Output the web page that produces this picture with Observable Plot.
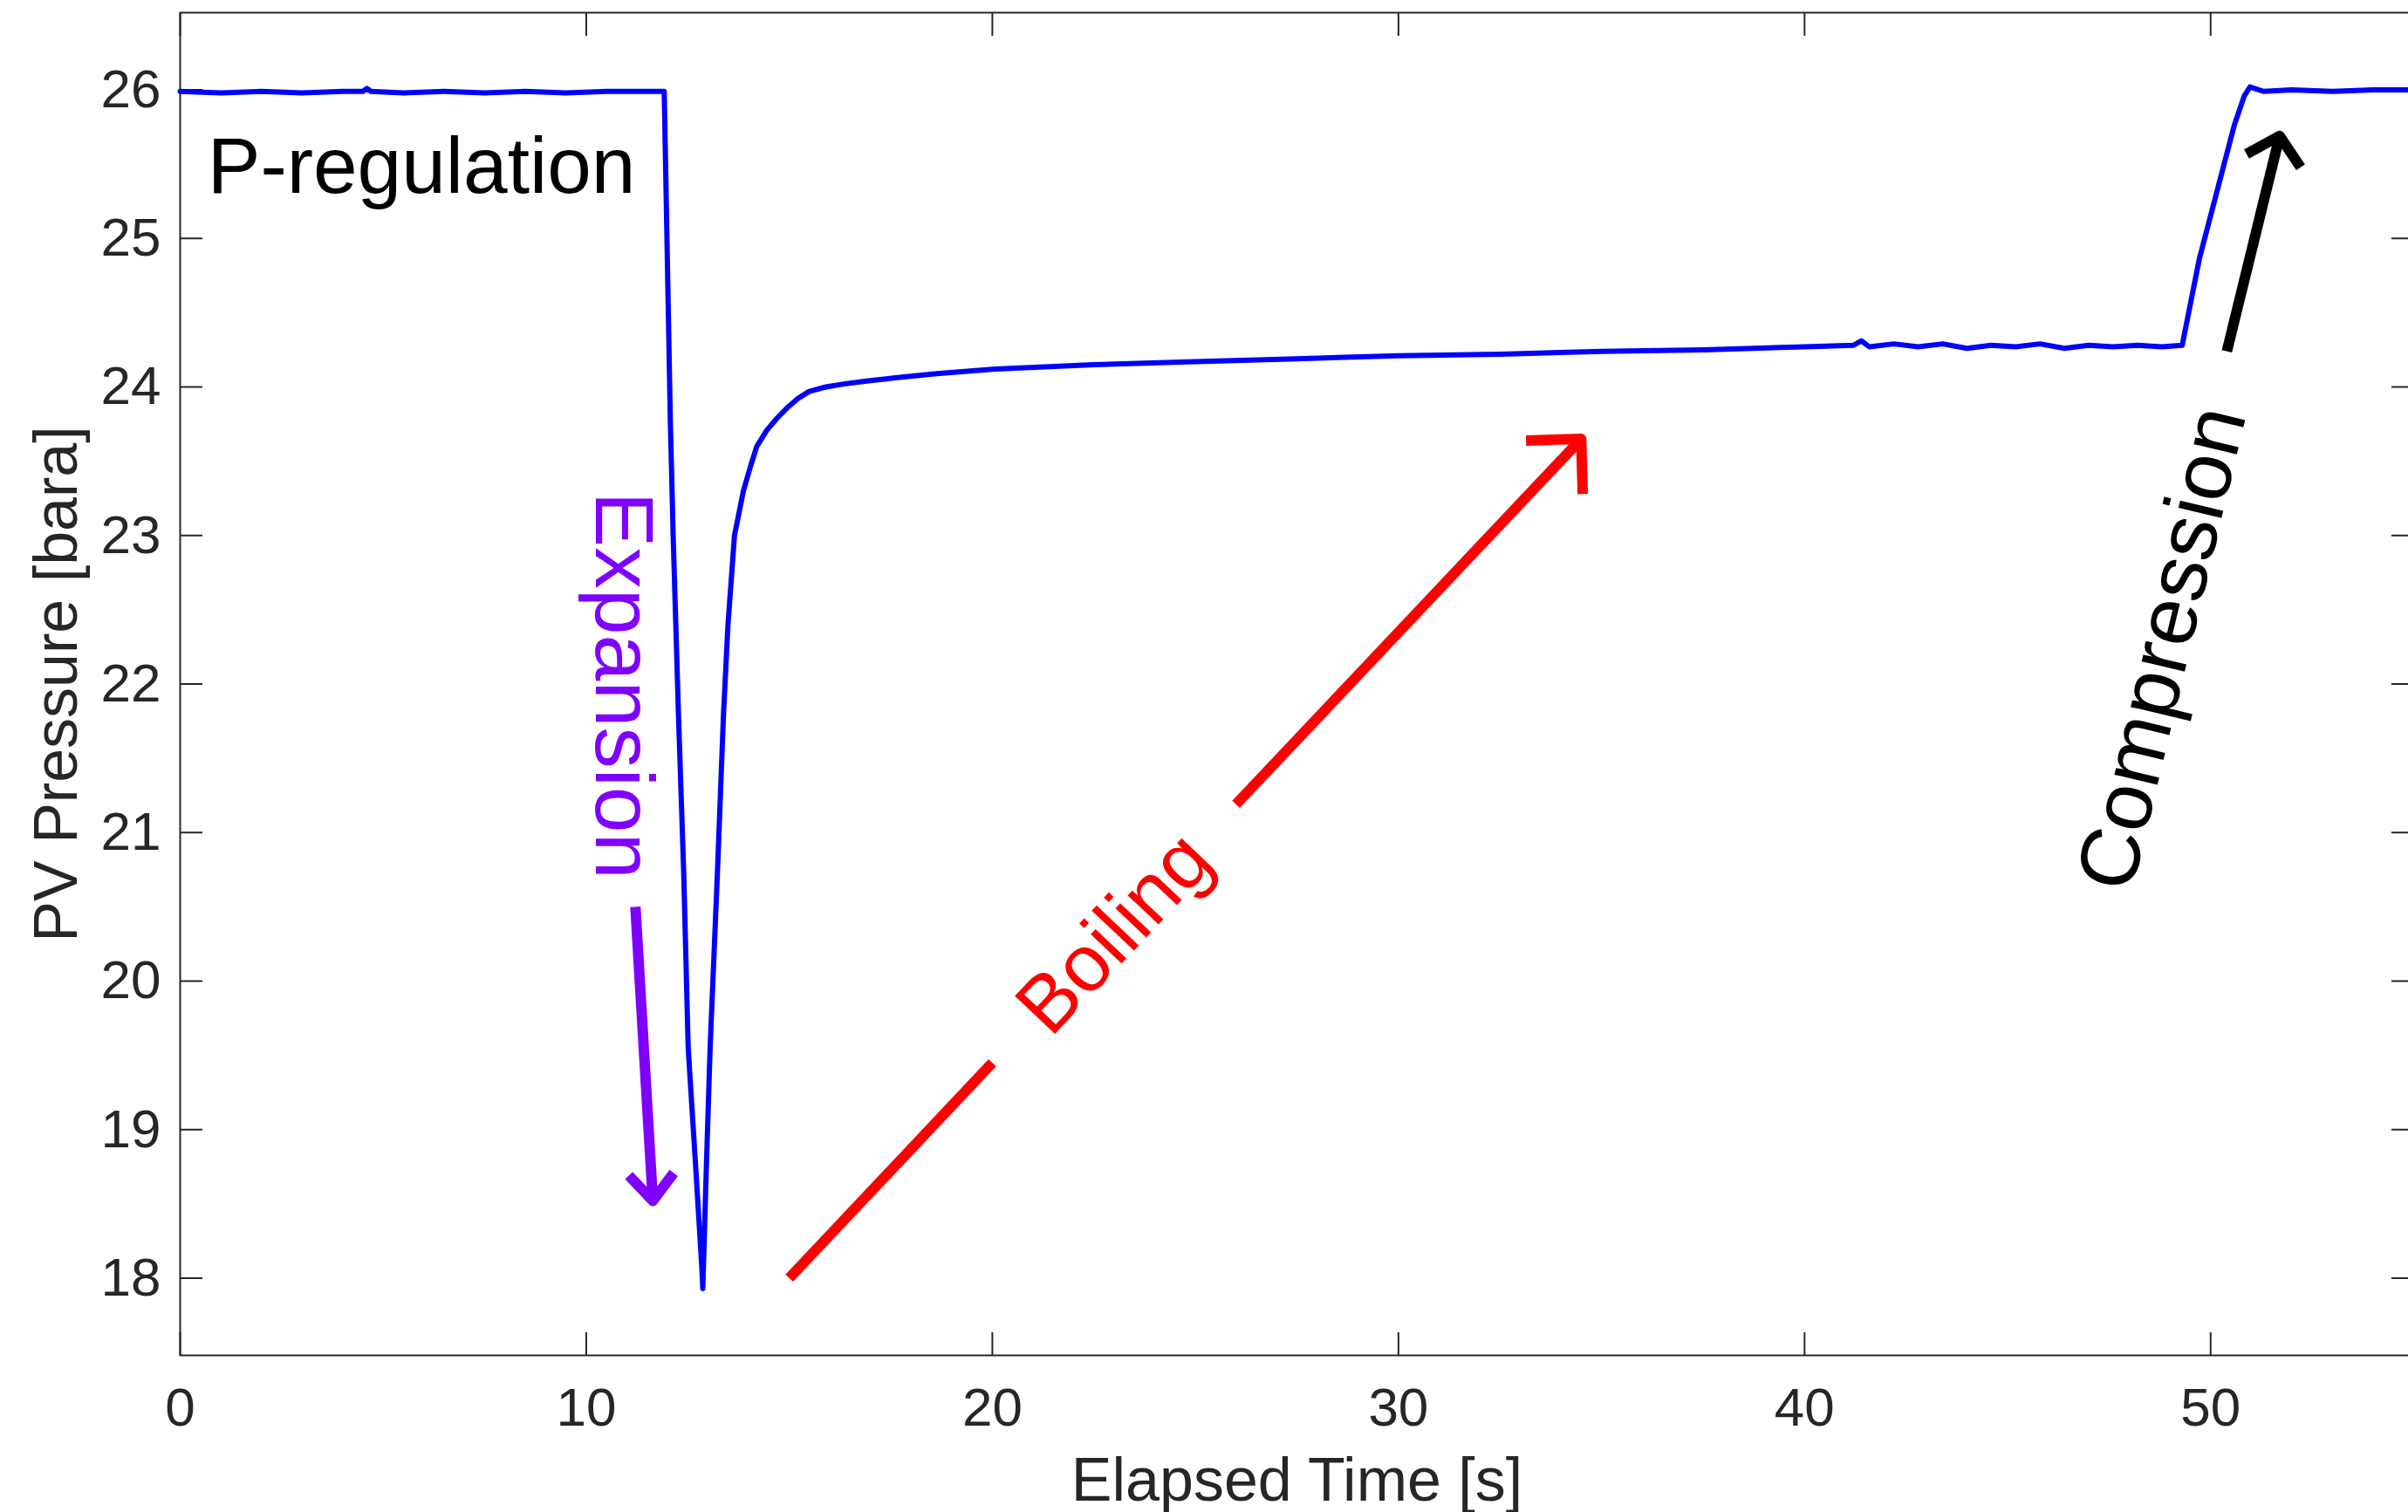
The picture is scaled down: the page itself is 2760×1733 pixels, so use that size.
<!DOCTYPE html>
<html>
<head>
<meta charset="utf-8">
<script src="https://cdn.jsdelivr.net/npm/d3@7"></script>
<script src="https://cdn.jsdelivr.net/npm/@observablehq/plot@0.6"></script>
<style>
  html, body { margin: 0; padding: 0; background: #ffffff; }
  #chart svg { display: block; }
</style>
</head>
<body>
<div id="chart"></div>
<script>
// ---- data ----
const time = [0, 1, 2, 3, 4, 4.5, 4.6, 4.7, 5.5, 6.5, 7.5, 8.5, 9.5, 10.5, 11.2, 11.92,
  12.07, 12.14, 12.27, 12.40, 12.51, 12.69, 12.84, 12.87,
  12.96, 13.05, 13.23, 13.38, 13.49, 13.65, 13.87, 14.05, 14.2, 14.45, 14.7, 14.95, 15.2, 15.49, 15.9, 16.34, 16.9, 17.56, 18.63, 20.07,
  22.5, 25, 27.5, 30, 32.5, 35, 37.5, 40, 41.2, 41.4, 41.6, 42.2, 42.8, 43.4, 44, 44.6, 45.2, 45.8, 46.4, 47, 47.6, 48.2, 48.8, 49.3,
  49.72, 50.15, 50.58, 50.83, 50.97, 51.3, 52, 53, 54, 55];
const pressure = [25.99, 25.98, 25.99, 25.98, 25.99, 25.99, 26.01, 25.99, 25.98, 25.99, 25.98, 25.99, 25.98, 25.99, 25.99, 25.99,
  23.78, 23.0, 21.8, 20.73, 19.55, 18.77, 18.10, 17.93,
  18.77, 19.55, 20.73, 21.8, 22.4, 23.0, 23.3, 23.47, 23.6, 23.71, 23.79, 23.86, 23.92, 23.97, 24.0, 24.02, 24.04, 24.06, 24.09, 24.12,
  24.15, 24.17, 24.19, 24.21, 24.22, 24.24, 24.25, 24.27, 24.28, 24.31, 24.27, 24.29, 24.27, 24.29, 24.26, 24.28, 24.27, 24.29, 24.26, 24.28, 24.27, 24.28, 24.27, 24.28,
  24.86, 25.31, 25.76, 25.96, 26.02, 25.99, 26.0, 25.99, 26.0, 26.0];

const xTicks = [0, 10, 20, 30, 40, 50];
const yTicks = [18, 19, 20, 21, 22, 23, 24, 25, 26];

// annotation texts and their anchor points (data units)
const noteText = ["P-regulation", "Expansion", "Boiling", "Compression"];
const noteTime = [0.67, 10.9, 23.01, 48.82];
const notePressure = [25.48, 21.99, 20.32, 22.24];

// annotation arrows (data units): Expansion, Boiling, Compression
const arrowTime1 = [11.21, 26.0, 50.40];
const arrowPressure1 = [20.50, 21.19, 24.24];
const arrowTime2 = [11.64, 34.5, 51.70];
const arrowPressure2 = [18.52, 23.65, 25.69];
const boilingTailTime = [15.0, 20.0];
const boilingTailPressure = [18.0, 19.45];

// ---- drawing ----
const font = "'Liberation Sans', Arial, Helvetica, sans-serif";
const axisColor = "#262626";
const purple = "#8000ff", red = "#ff0000", black = "#000000", blue = "#0000ff";

const series = time.map((t, i) => ({t, p: pressure[i]}));
const tail = boilingTailTime.map((t, i) => ({t, p: boilingTailPressure[i]}));

function arrowMark(i, color, headLength, headAngle) {
  return Plot.arrow([i], {
    x1: (j) => arrowTime1[j], y1: (j) => arrowPressure1[j],
    x2: (j) => arrowTime2[j], y2: (j) => arrowPressure2[j],
    stroke: color, strokeWidth: 12, headLength, headAngle,
    strokeLinecap: "butt", strokeLinejoin: "round", insetStart: 0, insetEnd: 0
  });
}
function noteMark(i, color, rotate, textAnchor, fontSize) {
  return Plot.text([i], {
    x: (j) => noteTime[j], y: (j) => notePressure[j], text: (j) => noteText[j],
    fill: color, fontSize, rotate, textAnchor, lineAnchor: "middle"
  });
}

const chart = Plot.plot({
  width: 2760,
  height: 1733,
  marginLeft: 206,
  marginRight: -6,
  marginTop: 14,
  marginBottom: 180,
  style: {fontFamily: font, background: "#ffffff", overflow: "visible"},
  x: {domain: [0, 55]},
  y: {domain: [17.48, 26.52]},
  marks: [
    Plot.frame({stroke: axisColor, strokeWidth: 2}),
    Plot.axisX(xTicks, {anchor: "bottom", tickSize: -26, tickPadding: 62, fontSize: 62,
      tickFormat: d3.format("d"), stroke: axisColor, fill: axisColor, strokeWidth: 2, label: null}),
    Plot.axisX(xTicks, {anchor: "top", tickSize: -26, stroke: axisColor, fill: "none", strokeWidth: 2, label: null}),
    Plot.axisY(yTicks, {anchor: "left", tickSize: -26, tickPadding: 48, fontSize: 62,
      tickFormat: d3.format("d"), stroke: axisColor, fill: axisColor, strokeWidth: 2, label: null}),
    Plot.axisY(yTicks, {anchor: "right", tickSize: -26, stroke: axisColor, fill: "none", strokeWidth: 2, label: null}),
    Plot.text(["Elapsed Time [s]"], {frameAnchor: "bottom", dy: 166, lineAnchor: "bottom",
      textAnchor: "middle", fontSize: 70, fill: axisColor}),
    Plot.text(["PV Pressure [bara]"], {frameAnchor: "left", dx: -168, rotate: -90, lineAnchor: "top",
      textAnchor: "middle", fontSize: 70, fill: axisColor}),
    Plot.line(series, {x: "t", y: "p", stroke: blue, strokeWidth: 6, strokeLinejoin: "round"}),
    Plot.line(tail, {x: "t", y: "p", stroke: red, strokeWidth: 12, strokeLinecap: "butt"}),
    arrowMark(0, purple, 5, 80),
    arrowMark(1, red, 7.9, 90),
    arrowMark(2, black, 5.4, 95),
    noteMark(0, black, 0, "start", 91),
    noteMark(1, purple, 90, "middle", 95),
    noteMark(2, red, -46.6, "middle", 92),
    noteMark(3, black, -76.5, "middle", 96)
  ]
});
document.getElementById("chart").appendChild(chart);
</script>
</body>
</html>
